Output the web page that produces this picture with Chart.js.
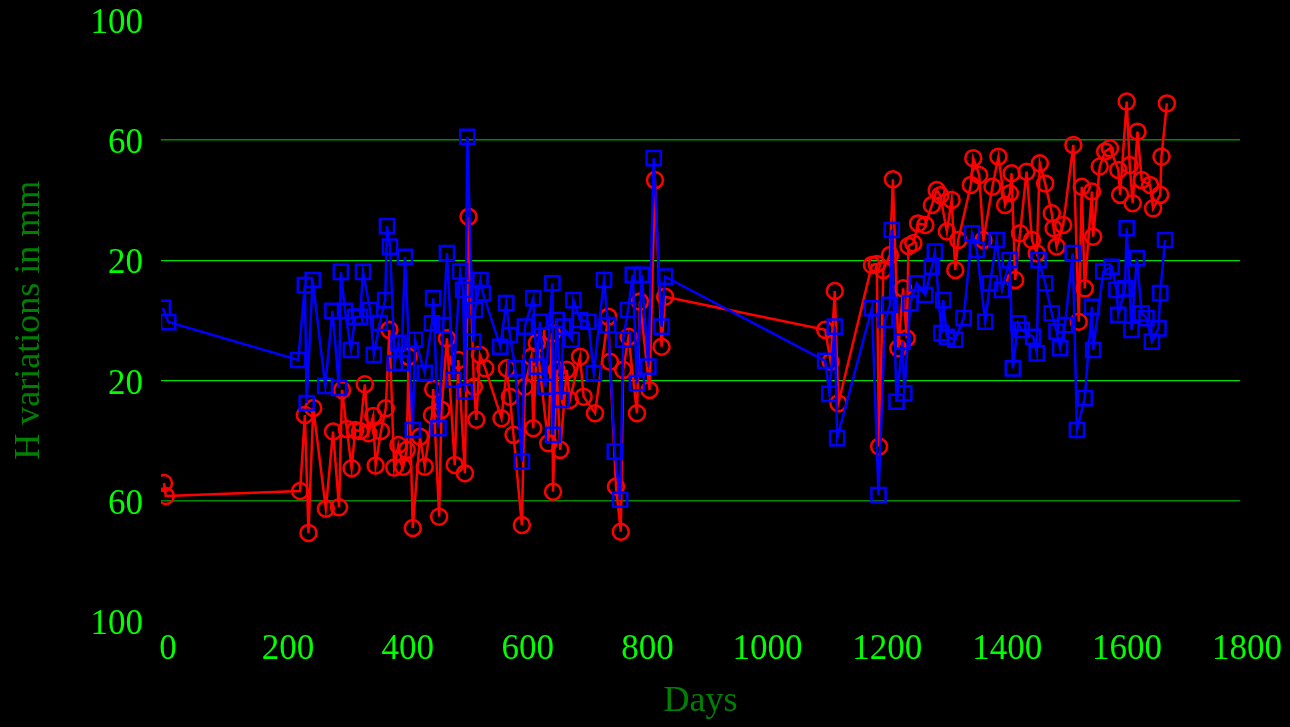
<!DOCTYPE html>
<html>
<head>
<meta charset="utf-8">
<title>H variations</title>
<script src="https://cdn.jsdelivr.net/npm/chart.js@4/dist/chart.umd.min.js"></script>
<style>
  html, body { margin: 0; padding: 0; background: #000; }
  #wrap { width: 1290px; height: 727px; }
</style>
</head>
<body>
<div id="wrap"><canvas id="hChart" width="1290" height="727"></canvas></div>
<script>
// Station readings: day number and H variation (mm)
const redDays = [
  5, 8, 232, 240, 246, 254, 275, 287, 297, 302, 310, 318, 324, 332, 340, 346, 354, 358, 367, 375,
  381, 389, 396, 404, 410, 413, 420, 432, 440, 452, 454, 464, 468, 477, 490, 496, 507, 513, 522, 526,
  532, 541, 568, 577, 582, 588, 602, 607, 618, 621, 627, 646, 652, 654, 660, 666, 677, 682, 699, 705,
  724, 746, 749, 759, 767, 771, 780, 794, 799, 815, 824, 835, 841,
  1108, 1117, 1124, 1130, 1186, 1194, 1198, 1205, 1216, 1221, 1230, 1238, 1244, 1247, 1255, 1263, 1275, 1286, 1294, 1300,
  1311, 1319, 1325, 1330, 1351, 1355, 1365, 1372, 1387, 1397, 1408, 1416, 1419, 1425, 1433, 1444, 1453, 1461, 1466, 1475,
  1486, 1489, 1494, 1505, 1522, 1531, 1536, 1541, 1553, 1555, 1566, 1575, 1583, 1597, 1600, 1611, 1616, 1621, 1629, 1636,
  1650, 1655, 1667, 1669, 1678
];
const redVals = [
  -54.1, -58.4, -56.8, -31.5, -70.7, -29.2, -62.7, -37.0, -62.2, -23.2, -36.2, -49.2, -36.5, -36.8, -21.3, -37.6, -31.8, -48.3, -36.8, -29.3,
  -3.2, -49.0, -41.5, -48.7, -43.1, -12.1, -69.1, -38.7, -48.7, -31.5, -22.9, -65.3, -29.8, -6.0, -48.1, -13.2, -50.9, 34.4, -22.1, -33.1,
  -11.5, -16.0, -32.6, -16.0, -25.4, -38.1, -68.1, -22.1, -12.1, -35.9, -7.6, -40.9, -4.3, -57.0, -16.5, -43.1, -16.5, -26.5, -12.1, -25.4,
  -30.9, 1.2, -13.8, -55.3, -70.3, -16.5, -5.5, -30.9, 6.2, -23.2, 46.6, -8.8, 7.8,
  -3.2, -13.8, 9.7, -27.6, 18.4, 18.7, -42.0, 16.7, 21.7, 46.9, -9.3, 10.6, -6.0, 24.7, 25.6, 32.2, 31.7, 38.3, 43.3, 41.6,
  29.5, 40.0, 16.7, 26.7, 45.0, 53.9, 48.3, 26.7, 44.4, 54.4, 38.3, 42.2, 48.9, 13.4, 28.9, 49.4, 26.7, 22.3, 52.2, 45.5,
  35.6, 30.6, 24.5, 31.7, 58.3, -0.5, 44.4, 10.6, 42.8, 27.8, 51.1, 56.1, 57.2, 50.0, 41.7, 72.7, 51.6, 38.9, 62.7, 46.6,
  45.0, 37.2, 41.7, 54.4, 72.1
];

const blueDays = [
  3, 12, 229, 240, 243, 253, 274, 286, 297, 300, 307, 317, 324, 332, 337, 349, 355, 365, 374, 377,
  382, 390, 396, 401, 407, 420, 424, 440, 452, 454, 463, 471, 477, 488, 499, 504, 507, 511, 521, 524,
  533, 537, 566, 576, 582, 591, 602, 607, 621, 627, 632, 641, 653, 654, 660, 668, 671, 685, 688, 699,
  713, 722, 739, 746, 757, 766, 771, 779, 787, 794, 802, 813, 822, 835, 841,
  1108, 1115, 1124, 1128, 1186, 1197, 1208, 1216, 1219, 1227, 1237, 1240, 1250, 1261, 1275, 1286, 1291, 1302, 1305, 1311,
  1325, 1339, 1353, 1361, 1375, 1383, 1394, 1403, 1416, 1421, 1430, 1436, 1455, 1461, 1464, 1475, 1486, 1494, 1500, 1508,
  1521, 1528, 1541, 1553, 1555, 1572, 1586, 1594, 1597, 1608, 1611, 1619, 1628, 1636, 1644, 1653, 1664, 1667, 1675
];
const blueVals = [
  4.1, -0.6, -13.2, 11.7, -27.5, 13.4, -21.8, 3.1, -22.5, 16.1, 3.1, -9.9, 1.1, 1.1, 16.1, 3.4, -11.5, -0.9, 6.7, 31.3,
  24.5, -14.2, -7.5, -14.2, 21.1, -36.5, -6.5, -17.5, -1.0, 7.3, -35.9, -1.6, 22.3, -19.8, 16.2, 10.1, -23.7, 61.0, -7.1, 3.4,
  13.4, 9.0, -8.8, 5.7, -4.9, -16.0, -47.0, -2.1, 7.3, -15.4, -0.5, -22.1, 12.3, -38.1, 0.1, -26.5, -2.1, -6.5, 6.7, 0.1,
  -0.5, -17.6, 13.4, -1.6, -43.7, -59.7, -6.5, 3.4, 15.1, -20.9, 15.1, -15.4, 53.9, -2.1, 14.5,
  -13.5, -24.5, -2.1, -39.2, 4.0, -58.1, 0.1, 5.1, 30.0, -27.1, -7.1, -24.3, 5.7, 12.3, 8.4, 17.8, 22.8, -4.3, 6.7, -5.5,
  -6.5, 0.7, 28.9, 23.4, -0.5, 12.3, 26.7, 10.1, 20.0, -16.0, -1.0, -3.2, -5.5, -11.0, 20.0, 12.3, 2.3, -3.8, -9.3, -1.6,
  22.3, -36.5, -25.9, 4.5, -9.9, 16.2, 17.8, 10.1, 1.8, 10.6, 30.6, -3.2, 20.6, 2.3, 0.7, -7.1, -2.7, 9.0, 26.7
];

// axis settings
const xMin = 0, xMax = 1800, xStep = 200;
const yMin = -100, yMax = 100, yStep = 40;

const serif = "'Liberation Serif', 'Times New Roman', serif";

function toPoints(days, vals) {
  return days.map((d, i) => ({ x: d, y: vals[i] }));
}

function gridColor(c) {
  const v = Math.abs(c.tick.value);
  if (v === 60) return '#008a00';
  if (v === 20) return '#00dd00';
  return 'rgba(0,0,0,0)';
}

const ctx = document.getElementById('hChart').getContext('2d');
const hChart = new Chart(ctx, {
  type: 'scatter',
  data: {
    datasets: [
      {
        label: 'blue',
        data: toPoints(blueDays, blueVals),
        showLine: true,
        borderColor: '#0000ff',
        borderWidth: 2.5,
        pointStyle: 'rect',
        pointRadius: 10,
        pointBorderWidth: 2.5,
        pointBorderColor: '#0000ff',
        pointBackgroundColor: 'rgba(0,0,0,0)'
      },
      {
        label: 'red',
        data: toPoints(redDays, redVals),
        showLine: true,
        borderColor: '#ff0000',
        borderWidth: 2.5,
        pointStyle: 'circle',
        pointRadius: 8,
        pointBorderWidth: 2.5,
        pointBorderColor: '#ff0000',
        pointBackgroundColor: 'rgba(0,0,0,0)'
      }
    ]
  },
  options: {
    responsive: false,
    animation: false,
    devicePixelRatio: 1,
    layout: { padding: { left: 0, right: 50, top: 19.5, bottom: 0 } },
    plugins: {
      legend: { display: false },
      tooltip: { enabled: false }
    },
    scales: {
      x: {
        type: 'linear',
        min: xMin,
        max: xMax,
        afterFit(s) { s.height = 106; s.paddingLeft = 0; s.paddingRight = 0; },
        grid: { display: false, drawTicks: false },
        border: { display: false },
        ticks: {
          stepSize: xStep,
          autoSkip: false,
          maxRotation: 0,
          padding: 8,
          labelOffset: 7,
          color: '#00ff00',
          font: { family: serif, size: 35 },
          callback: v => String(v)
        },
        title: {
          display: true,
          text: 'Days',
          color: '#008000',
          font: { family: serif, size: 36 },
          padding: { top: 0, bottom: 3.4 }
        }
      },
      y: {
        min: yMin,
        max: yMax,
        afterFit(s) { s.width = 161; s.paddingTop = 0; s.paddingBottom = 0; },
        grid: {
          drawTicks: false,
          color: gridColor,
          lineWidth: c => (Math.abs(c.tick.value) === 60 ? 1.6 : 1.2)
        },
        border: { display: false },
        ticks: {
          stepSize: yStep,
          padding: 18,
          labelOffset: 4,
          color: '#00ff00',
          font: { family: serif, size: 35 },
          callback: v => String(Math.abs(v))
        },
        title: {
          display: true,
          text: 'H variations in mm',
          color: '#008000',
          font: { family: serif, size: 36 },
          padding: { top: 8.4, bottom: 0 }
        }
      }
    }
  }
});
</script>
</body>
</html>
